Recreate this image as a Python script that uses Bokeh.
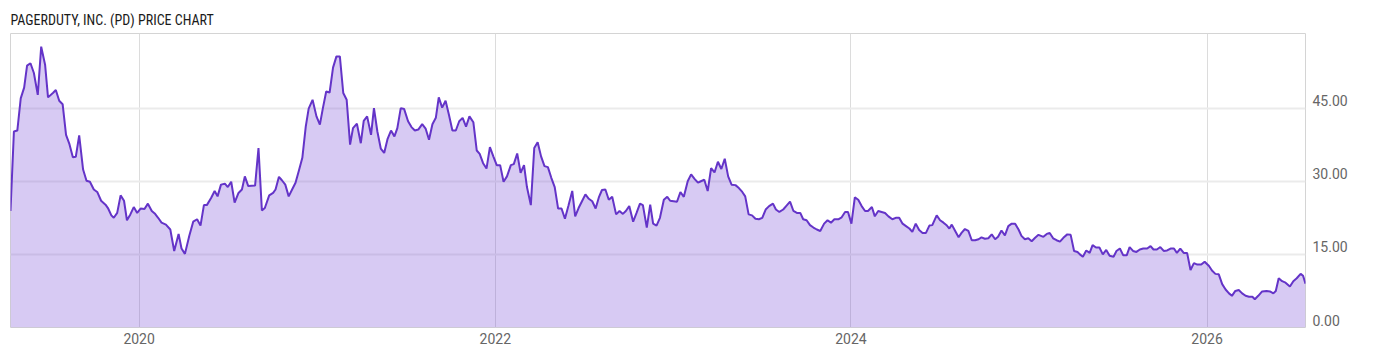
import pandas as pd
from bokeh.plotting import figure
from bokeh.models import (ColumnDataSource, FixedTicker, DatetimeTickFormatter,
                          Range1d)
from bokeh.embed import file_html
from bokeh.resources import INLINE

TITLE = "PAGERDUTY, INC. (PD) PRICE CHART"
year_ticks = [2020, 2022, 2024, 2026]
price_ticks = [0, 15, 30, 45]

dates = [
    "2019-04-12", "2019-04-19", "2019-04-26", "2019-05-03", "2019-05-10", "2019-05-16", "2019-05-23",
    "2019-05-30", "2019-06-07", "2019-06-14", "2019-06-22", "2019-06-28", "2019-07-08", "2019-07-14",
    "2019-07-21", "2019-07-28", "2019-08-04", "2019-08-11", "2019-08-18", "2019-08-24", "2019-08-31",
    "2019-09-08", "2019-09-15", "2019-09-22", "2019-09-30", "2019-10-07", "2019-10-15", "2019-10-24",
    "2019-10-29", "2019-11-05", "2019-11-10", "2019-11-17", "2019-11-24", "2019-12-01", "2019-12-07",
    "2019-12-14", "2019-12-21", "2019-12-28", "2020-01-04", "2020-01-12", "2020-01-19", "2020-01-27",
    "2020-02-02", "2020-02-09", "2020-02-16", "2020-02-25", "2020-03-05", "2020-03-13", "2020-03-22",
    "2020-03-28", "2020-04-04", "2020-04-13", "2020-04-21", "2020-04-29", "2020-05-06", "2020-05-13",
    "2020-05-19", "2020-05-28", "2020-06-04", "2020-06-10", "2020-06-17", "2020-06-25", "2020-07-01",
    "2020-07-08", "2020-07-15", "2020-07-23", "2020-07-30", "2020-08-05", "2020-08-12", "2020-08-26",
    "2020-09-02", "2020-09-09", "2020-09-15", "2020-09-24", "2020-10-02", "2020-10-07", "2020-10-14",
    "2020-10-20", "2020-10-27", "2020-11-03", "2020-11-10", "2020-11-17", "2020-11-24", "2020-12-01",
    "2020-12-08", "2020-12-14", "2020-12-22", "2020-12-30", "2021-01-06", "2021-01-12", "2021-01-19",
    "2021-01-26", "2021-02-02", "2021-02-09", "2021-02-16", "2021-02-23", "2021-03-02", "2021-03-09",
    "2021-03-15", "2021-03-23", "2021-03-31", "2021-04-06", "2021-04-13", "2021-04-21", "2021-04-27",
    "2021-05-04", "2021-05-11", "2021-05-18", "2021-05-25", "2021-06-01", "2021-06-08", "2021-06-14",
    "2021-06-21", "2021-06-28", "2021-07-06", "2021-07-13", "2021-07-20", "2021-07-27", "2021-08-04",
    "2021-08-11", "2021-08-18", "2021-08-25", "2021-09-01", "2021-09-07", "2021-09-14", "2021-09-21",
    "2021-09-28", "2021-10-05", "2021-10-12", "2021-10-19", "2021-10-26", "2021-11-02", "2021-11-09",
    "2021-11-17", "2021-11-24", "2021-11-30", "2021-12-07", "2021-12-14", "2021-12-21", "2021-12-28",
    "2022-01-04", "2022-01-11", "2022-01-18", "2022-01-25", "2022-02-02", "2022-02-08", "2022-02-15",
    "2022-02-22", "2022-03-01", "2022-03-07", "2022-03-15", "2022-03-22", "2022-03-29", "2022-04-05",
    "2022-04-12", "2022-04-19", "2022-04-26", "2022-05-03", "2022-05-10", "2022-05-17", "2022-05-24",
    "2022-05-31", "2022-06-08", "2022-06-14", "2022-06-21", "2022-06-28", "2022-07-05", "2022-07-12",
    "2022-07-19", "2022-07-26", "2022-08-02", "2022-08-08", "2022-08-15", "2022-08-22", "2022-08-29",
    "2022-09-06", "2022-09-13", "2022-09-20", "2022-09-26", "2022-10-03", "2022-10-11", "2022-10-18",
    "2022-10-25", "2022-10-31", "2022-11-08", "2022-11-15", "2022-11-21", "2022-11-28", "2022-12-05",
    "2022-12-13", "2022-12-20", "2022-12-26", "2023-01-02", "2023-01-09", "2023-01-16", "2023-01-23",
    "2023-01-31", "2023-02-07", "2023-02-14", "2023-02-21", "2023-02-27", "2023-03-06", "2023-03-13",
    "2023-03-20", "2023-03-27", "2023-04-03", "2023-04-10", "2023-04-17", "2023-04-24", "2023-05-01",
    "2023-05-09", "2023-05-16", "2023-05-23", "2023-05-29", "2023-06-05", "2023-06-12", "2023-06-19",
    "2023-06-26", "2023-07-03", "2023-07-10", "2023-07-17", "2023-07-25", "2023-07-31", "2023-08-07",
    "2023-08-15", "2023-08-21", "2023-08-29", "2023-09-05", "2023-09-12", "2023-09-19", "2023-09-25",
    "2023-10-02", "2023-10-09", "2023-10-16", "2023-10-23", "2023-10-30", "2023-11-07", "2023-11-14",
    "2023-11-21", "2023-11-28", "2023-12-06", "2023-12-13", "2023-12-20", "2023-12-26", "2024-01-02",
    "2024-01-09", "2024-01-16", "2024-01-23", "2024-01-30", "2024-02-05", "2024-02-13", "2024-02-19",
    "2024-02-26", "2024-03-04", "2024-03-11", "2024-03-18", "2024-03-26", "2024-04-02", "2024-04-09",
    "2024-04-16", "2024-04-23", "2024-04-30", "2024-05-06", "2024-05-13", "2024-05-20", "2024-05-27",
    "2024-06-03", "2024-06-10", "2024-06-16", "2024-06-25", "2024-07-02", "2024-07-09", "2024-07-16",
    "2024-07-21", "2024-07-26", "2024-08-02", "2024-08-09", "2024-08-15", "2024-08-22", "2024-08-29",
    "2024-09-05", "2024-09-12", "2024-09-19", "2024-09-25", "2024-10-02", "2024-10-09", "2024-10-16",
    "2024-10-23", "2024-10-29", "2024-11-05", "2024-11-12", "2024-11-19", "2024-11-26", "2024-12-03",
    "2024-12-10", "2024-12-16", "2024-12-23", "2024-12-30", "2025-01-06", "2025-01-13", "2025-01-20",
    "2025-01-30", "2025-02-06", "2025-02-12", "2025-02-19", "2025-02-26", "2025-03-05", "2025-03-12",
    "2025-03-20", "2025-03-27", "2025-04-03", "2025-04-10", "2025-04-15", "2025-04-21", "2025-04-28",
    "2025-05-05", "2025-05-11", "2025-05-18", "2025-05-25", "2025-06-01", "2025-06-08", "2025-06-15",
    "2025-06-23", "2025-06-29", "2025-07-06", "2025-07-13", "2025-07-20", "2025-07-26", "2025-08-02",
    "2025-08-09", "2025-08-16", "2025-08-23", "2025-08-31", "2025-09-07", "2025-09-13", "2025-09-20",
    "2025-09-27", "2025-10-04", "2025-10-11", "2025-10-18", "2025-10-25", "2025-10-31", "2025-11-07",
    "2025-11-14", "2025-11-21", "2025-11-28", "2025-12-05", "2025-12-12", "2025-12-20", "2025-12-27",
    "2026-01-05", "2026-01-11", "2026-01-18", "2026-01-25", "2026-02-01", "2026-02-08", "2026-02-15",
    "2026-02-21", "2026-02-28", "2026-03-07", "2026-03-14", "2026-03-21", "2026-03-28", "2026-04-04",
    "2026-04-09", "2026-04-16", "2026-04-24", "2026-05-03", "2026-05-10", "2026-05-17", "2026-05-22",
    "2026-05-28", "2026-06-04", "2026-06-11", "2026-06-20", "2026-06-27", "2026-07-04", "2026-07-12",
    "2026-07-17", "2026-07-22",
]

prices = [
    23.9, 40.2, 40.4, 47.0, 49.2, 53.7, 54.2,
    52.2, 47.7, 57.6, 53.9, 47.2, 48.1, 48.7,
    46.5, 45.8, 39.5, 37.6, 34.9, 35.0, 39.4,
    32.4, 30.1, 29.9, 28.3, 27.8, 26.0, 25.2,
    24.5, 23.0, 22.5, 23.5, 27.1, 26.0, 22.0,
    23.2, 24.7, 23.5, 24.4, 24.3, 25.4, 23.9,
    23.4, 22.5, 21.5, 21.1, 20.1, 15.7, 19.2,
    16.2, 15.1, 18.8, 21.7, 22.2, 20.9, 25.1,
    25.1, 26.6, 28.0, 26.9, 29.3, 29.5, 28.8,
    29.9, 25.6, 27.6, 28.3, 31.0, 29.0, 29.1,
    36.8, 24.0, 24.5, 27.1, 27.6, 28.3, 30.9,
    30.2, 29.3, 26.9, 28.3, 29.7, 32.2, 34.8,
    41.2, 44.9, 46.7, 43.3, 41.6, 44.9, 48.4,
    48.2, 53.3, 55.6, 55.6, 48.1, 46.7, 37.5,
    40.9, 41.8, 37.8, 42.4, 43.3, 39.5, 45.0,
    40.2, 36.7, 35.8, 38.7, 40.4, 39.2, 40.9,
    45.0, 44.8, 42.3, 41.1, 40.4, 40.6, 41.7,
    40.8, 38.5, 41.7, 43.0, 47.2, 45.1, 46.5,
    43.6, 40.4, 40.4, 42.3, 43.0, 41.2, 43.3,
    42.1, 36.3, 35.6, 33.7, 32.6, 37.0, 35.1,
    33.3, 33.3, 29.9, 31.0, 33.3, 33.5, 35.7,
    31.7, 33.3, 28.8, 25.1, 36.8, 38.0, 35.1,
    33.1, 32.9, 30.7, 28.8, 24.4, 24.4, 22.3,
    24.9, 28.0, 22.8, 24.5, 25.9, 27.3, 26.4,
    25.9, 24.4, 26.8, 28.2, 28.3, 26.2, 26.8,
    23.2, 23.9, 23.3, 23.9, 24.9, 21.7, 23.5,
    25.4, 25.1, 20.5, 25.2, 21.3, 20.9, 22.5,
    26.2, 26.8, 26.0, 25.9, 25.8, 27.8, 26.8,
    30.0, 31.4, 30.5, 29.7, 30.0, 30.3, 28.0,
    32.7, 31.8, 34.0, 32.5, 34.6, 31.0, 29.3,
    29.2, 28.6, 27.8, 26.9, 23.2, 23.0, 22.3,
    22.2, 22.5, 24.2, 24.9, 25.4, 24.2, 23.7,
    24.2, 24.9, 25.8, 23.9, 23.5, 23.5, 22.2,
    22.0, 21.0, 20.5, 20.1, 19.8, 21.3, 22.0,
    21.5, 22.2, 22.2, 22.6, 23.7, 23.7, 21.3,
    26.7, 26.2, 24.9, 23.9, 23.9, 24.7, 22.8,
    23.9, 23.7, 23.5, 22.8, 22.2, 22.5, 22.5,
    21.3, 20.8, 20.3, 19.6, 21.3, 20.0, 19.4,
    19.4, 20.9, 21.0, 23.0, 22.0, 21.5, 20.9,
    20.3, 21.1, 19.8, 18.5, 19.4, 20.2, 19.8,
    17.9, 17.9, 18.1, 18.5, 18.2, 18.3, 19.1,
    18.1, 18.6, 19.9, 18.9, 20.8, 21.3, 21.3,
    20.1, 18.8, 18.1, 18.3, 17.7, 18.4, 19.0,
    18.6, 19.2, 19.4, 18.3, 17.9, 17.6, 18.4,
    19.1, 19.0, 15.7, 15.5, 15.0, 14.5, 15.8,
    15.3, 16.9, 16.4, 16.4, 15.0, 15.9, 14.7,
    14.5, 15.7, 16.2, 14.8, 14.8, 16.5, 15.7,
    15.5, 16.0, 16.2, 16.2, 16.7, 16.0, 16.0,
    16.5, 15.7, 15.8, 16.2, 16.2, 15.3, 16.2,
    15.3, 15.3, 11.8, 13.2, 12.9, 12.9, 13.5,
    12.6, 11.7, 11.0, 10.9, 8.9, 7.8, 7.0,
    6.5, 7.5, 7.7, 7.0, 6.5, 6.3, 6.3,
    5.8, 6.5, 7.4, 7.5, 7.4, 7.0, 7.5,
    10.1, 9.5, 9.2, 8.4, 9.5, 10.1, 11.0,
    10.6, 9.0,
]

x = pd.to_datetime(dates)
source = ColumnDataSource(dict(date=x, price=prices, base=[0] * len(prices)))

FONT = "Roboto"
TITLE_FONT = "'Liberation Sans Narrow', 'Roboto Condensed', Roboto"
LABEL_COLOR = "#666666"
Y_MAX = 60.3
PLOT_H = 294  # frame height in px, used to lift y labels above their gridlines
LABEL_LIFT_PX = 7.5

p = figure(
    width=1400, height=357,
    x_axis_type="datetime", y_axis_location="right",
    x_range=Range1d(x[0], x[-1]), y_range=Range1d(0, Y_MAX),
    output_backend="svg", toolbar_location=None,
    min_border_left=10, min_border_right=95, min_border_top=33, min_border_bottom=30,
    background_fill_color="white", border_fill_color="white",
)

p.title.text = TITLE
p.title.align = "left"
p.title.text_font = TITLE_FONT
p.title.text_font_size = "14px"
p.title.text_font_style = "normal"
p.title.text_color = "#1a1a1a"
p.title.standoff = 12

p.varea(x="date", y1="base", y2="price", source=source,
        fill_color="#7a50d6", fill_alpha=0.3)
p.line(x="date", y="price", source=source, line_color="#6434c8", line_width=2)

year_ms = [pd.Timestamp(f"{y}-01-01").value / 1e6 for y in year_ticks]
p.xaxis.ticker = FixedTicker(ticks=year_ms)
p.xgrid.ticker = FixedTicker(ticks=year_ms)
p.xaxis.formatter = DatetimeTickFormatter(
    years="%Y", months="%Y", days="%Y", hours="%Y", minutes="%Y",
    seconds="%Y", milliseconds="%Y", microseconds="%Y",
    hourmin="%Y", minsec="%Y")

# y labels sit slightly above their gridlines in the reference
lift = LABEL_LIFT_PX * Y_MAX / PLOT_H
label_pos = [t + lift for t in price_ticks]
p.yaxis.ticker = FixedTicker(ticks=label_pos)
p.yaxis.major_label_overrides = {pos: f"{t:.2f}" for pos, t in zip(label_pos, price_ticks)}
p.ygrid.ticker = FixedTicker(ticks=price_ticks)

for ax in (p.xaxis, p.yaxis):
    ax.axis_line_color = None
    ax.major_tick_line_color = None
    ax.minor_tick_line_color = None
    ax.major_tick_out = 0
    ax.major_label_text_font = FONT
    ax.major_label_text_font_size = "14px"
    ax.major_label_text_color = LABEL_COLOR

p.xaxis.major_label_standoff = 5
p.yaxis.major_label_standoff = 7

p.xgrid.grid_line_color = "#dcdcdc"
p.xgrid.grid_line_width = 1
p.ygrid.grid_line_color = "#ebebeb"
p.ygrid.grid_line_width = 2

p.outline_line_color = "#d4d4d4"
p.outline_line_width = 1

open("out.html", "w").write(file_html(p, INLINE))
